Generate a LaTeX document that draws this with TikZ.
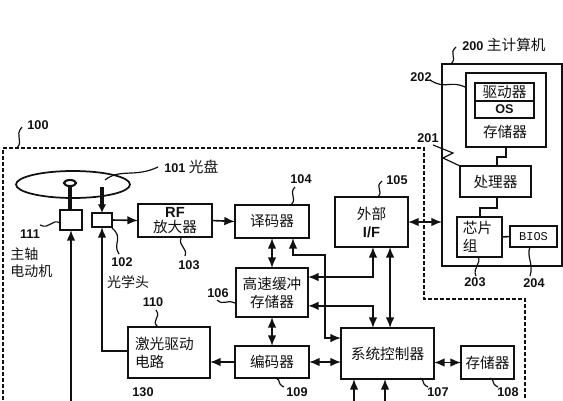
\documentclass[tikz,border=0pt]{standalone}
\usepackage{fontspec}
\setmainfont{Liberation Sans}
\newfontfamily\cjk{Noto Sans CJK SC}
\newfontfamily\biosfont{Liberation Mono}
\usepackage{tikz}
\usetikzlibrary{shapes.geometric, arrows.meta, positioning}
\definecolor{myink}{HTML}{111111}
\tikzset{
    blockbox/.style={draw=myink, line width=1.3pt, inner sep=0pt, outer sep=0pt, align=center, text=myink, font=\cjk\fontsize{11}{13.5}\selectfont},
    numlabel/.style={inner sep=0pt, text=myink, font=\bfseries\fontsize{9.5}{10}\selectfont},
    cjklabel/.style={inner sep=0pt, text=myink, align=left, font=\cjk\fontsize{10.5}{13}\selectfont},
    link/.style={draw=myink, line width=1.2pt},
    flow/.style={link, -{Latex[length=8pt,width=6.5pt]}},
    biflow/.style={link, {Latex[length=8pt,width=6.5pt]}-{Latex[length=8pt,width=6.5pt]}},
    leader/.style={draw=myink, line width=0.9pt},
    casing/.style={draw=myink, line width=1.2pt, dash pattern=on 3pt off 1.5pt}
}
\begin{document}
\begin{tikzpicture}[x=0.75pt, y=-0.75pt, >=Latex]
    \useasboundingbox (0,0) rectangle (563,400);
    % optical drive
    \draw[casing] (3,400) -- (3,148) -- (424,148) -- (424,299) -- (525,299) -- (525,400);
    \node[draw=myink, line width=1.3pt, ellipse, minimum width=85.5pt, minimum height=20.25pt, inner sep=0pt, outer sep=0pt] (disc) at (73,184.5) {};
    \node[draw=myink, line width=1.6pt, ellipse, minimum width=9pt, minimum height=4.5pt, inner sep=0pt, outer sep=0pt] (spindle) at (70,183) {};
    \node[blockbox, minimum width=16.5pt, minimum height=15pt] (motor) at (71,220) {};
    \node[blockbox, minimum width=15pt, minimum height=10.5pt] (pickup) at (102,220) {};
    \node[blockbox, minimum width=55.5pt, minimum height=24.75pt] (rfamp) at (175,220.5) {{\rmfamily\bfseries RF}\\[-2pt]放大器};
    \node[blockbox, minimum width=55.5pt, minimum height=24.75pt] (decoder) at (272,221.5) {译码器};
    \node[blockbox, minimum width=54.75pt, minimum height=37.5pt] (extif) at (371.5,222) {外部\\{\rmfamily\bfseries I/F}};
    \node[blockbox, minimum width=54pt, minimum height=36.75pt] (buffer) at (272,292.5) {高速缓冲\\存储器};
    \node[blockbox, minimum width=55.5pt, minimum height=24pt] (encoder) at (272,362) {编码器};
    \node[blockbox, minimum width=69.75pt, minimum height=38.25pt] (sysctrl) at (387.5,353.5) {系统控制器};
    \node[blockbox, minimum width=39.75pt, minimum height=24.75pt] (store) at (487.5,362.5) {存储器};
    \node[blockbox, minimum width=61.5pt, minimum height=38.25pt] (laser) at (169,352.5) {激光驱动\hspace{7pt}\mbox{}\\电路\hspace{29pt}\mbox{}};
    % host computer
    \node[blockbox, minimum width=90pt, minimum height=151.5pt] (host) at (502,165) {};
    \node[blockbox, minimum width=60pt, minimum height=55.5pt] (hostmem) at (506,110) {};
    \node[blockbox, minimum width=44.25pt, minimum height=13.5pt] (driver) at (504.5,92) {驱动器};
    \node[blockbox, minimum width=44.25pt, minimum height=12.75pt, font=\bfseries\fontsize{9.5}{10}\selectfont] (os) at (504.5,109.5) {OS};
    \node[cjklabel, font=\cjk\fontsize{11}{13}\selectfont] (memname) at (505,132) {存储器};
    \node[blockbox, minimum width=53.25pt, minimum height=23.25pt] (cpu) at (495.5,181.5) {处理器};
    \node[blockbox, minimum width=33.75pt, minimum height=30pt] (chipset) at (479.5,237) {芯片\hspace{3pt}\mbox{}\\组\hspace{14pt}\mbox{}};
    \node[blockbox, minimum width=35.25pt, minimum height=15.75pt, font=\biosfont\fontsize{9}{10}\selectfont] (bios) at (533.5,236.5) {BIOS};
    % free ends
    \coordinate (beam) at (102,187);
    \coordinate (motorin) at (71,402);
    \coordinate (ctrlina) at (354,402);
    \coordinate (ctrlinb) at (385,402);
    % links
    \draw[draw=myink, line width=3pt] (spindle.south) -- (spindle.south |- motor.north);
    \draw[link, line width=2.6pt, -{Latex[length=6.5pt,width=6.5pt]}] (beam) -- (pickup.north);
    \draw[flow] (motorin) -- (motor.south);
    \draw[flow] (laser.west |- 0,351) -| (pickup.south);
    \draw[flow] (pickup.east) -- (rfamp.west);
    \draw[flow] (rfamp.east) -- (decoder.west);
    \draw[biflow] (decoder.south) -- (buffer.north);
    \draw[biflow] (buffer.south) -- (encoder.north);
    \draw[flow] (encoder.west) -- (laser.east |- encoder.west);
    \draw[biflow] (encoder.east) -- (sysctrl.west |- encoder.east);
    \draw[biflow] (sysctrl.east |- store.west) -- (store.west);
    \draw[biflow] ([xshift=15.75pt]decoder.south) |- (325,255) |- ([yshift=11.6pt]sysctrl.west);
    \draw[biflow] ([xshift=1.1pt]extif.south) |- ([yshift=11.6pt]buffer.east);
    \draw[biflow] ([yshift=-10pt]buffer.east) -| ([xshift=-10.9pt]sysctrl.north);
    \draw[biflow] ([xshift=13.9pt]extif.south) -- ([xshift=1.9pt]sysctrl.north);
    \draw[flow] (ctrlina) -- (ctrlina |- sysctrl.south);
    \draw[flow] (ctrlinb) -- (ctrlinb |- sysctrl.south);
    \draw[biflow] (extif.east) -- (host.west |- extif.east);
    \draw[link] (hostmem.south) |- (497,157) -- (cpu.north -| 497,0);
    \draw[link] (cpu.south -| 497,0) |- (480,208) -- (chipset.north -| 480,0);
    \draw[link] (chipset.east) -- (bios.west);
    % numbers and names
    \node[numlabel] (n100) at (38,125) {100};
    \node[numlabel, anchor=west] (n101) at (164,167) {101 {\cjk\mdseries\fontsize{11}{12}\selectfont 光盘}};
    \node[numlabel] (n111) at (30,234) {111};
    \node[cjklabel, anchor=north west] (motorname) at (10,247) {主轴\\电动机};
    \node[numlabel] (n102) at (122,262) {102};
    \node[cjklabel] (headname) at (128,282) {光学头};
    \node[numlabel] (n103) at (189,265) {103};
    \node[numlabel] (n104) at (301,179) {104};
    \node[numlabel] (n105) at (397,180) {105};
    \node[numlabel] (n106) at (218,293) {106};
    \node[numlabel] (n110) at (153,302) {110};
    \node[numlabel] (n130) at (143,392) {130};
    \node[numlabel] (n109) at (297,392) {109};
    \node[numlabel] (n107) at (438,392) {107};
    \node[numlabel] (n108) at (508,392) {108};
    \node[numlabel, anchor=west] (n200) at (462,45) {200 {\cjk\mdseries\fontsize{11}{12}\selectfont 主计算机}};
    \node[numlabel] (n202) at (421,77) {202};
    \node[numlabel] (n201) at (428,138) {201};
    \node[numlabel] (n203) at (475,282) {203};
    \node[numlabel] (n204) at (534,283) {204};
    % leaders
    \draw[leader] (17,148) .. controls (24,140) and (14,136) .. (22,127);
    \draw[leader] (105,180) .. controls (120,168) and (135,178) .. (158,167);
    \draw[leader] (60,223) .. controls (52,218) and (50,230) .. (40,225);
    \draw[leader] (112,228) .. controls (124,238) and (112,244) .. (119,254);
    \draw[leader] (181,238) .. controls (178,246) and (188,248) .. (185,256);
    \draw[leader] (291,205) .. controls (298,198) and (288,194) .. (295,187);
    \draw[leader] (378,197) .. controls (384,190) and (374,188) .. (382,181);
    \draw[leader] (217,300) .. controls (224,306) and (226,299) .. (235,303);
    \draw[leader] (158,327) .. controls (150,320) and (162,318) .. (156,310);
    \draw[leader] (276,378) .. controls (282,381) and (276,383) .. (284,387);
    \draw[leader] (420,378) .. controls (426,381) and (420,383) .. (428,387);
    \draw[leader] (490,378) .. controls (496,381) and (490,383) .. (498,387);
    \draw[leader] (451,64) .. controls (458,57) and (448,54) .. (456,47);
    \draw[leader] (430,80) .. controls (445,90) and (450,80) .. (465,87);
    \draw[leader] (433,145) -- (453,153) -- (443,158) -- (460,166);
    \draw[leader] (478,257) .. controls (482,263) and (472,268) .. (476,276);
    \draw[leader] (530,247) .. controls (526,256) and (534,264) .. (530,276);
\end{tikzpicture}
\end{document}
